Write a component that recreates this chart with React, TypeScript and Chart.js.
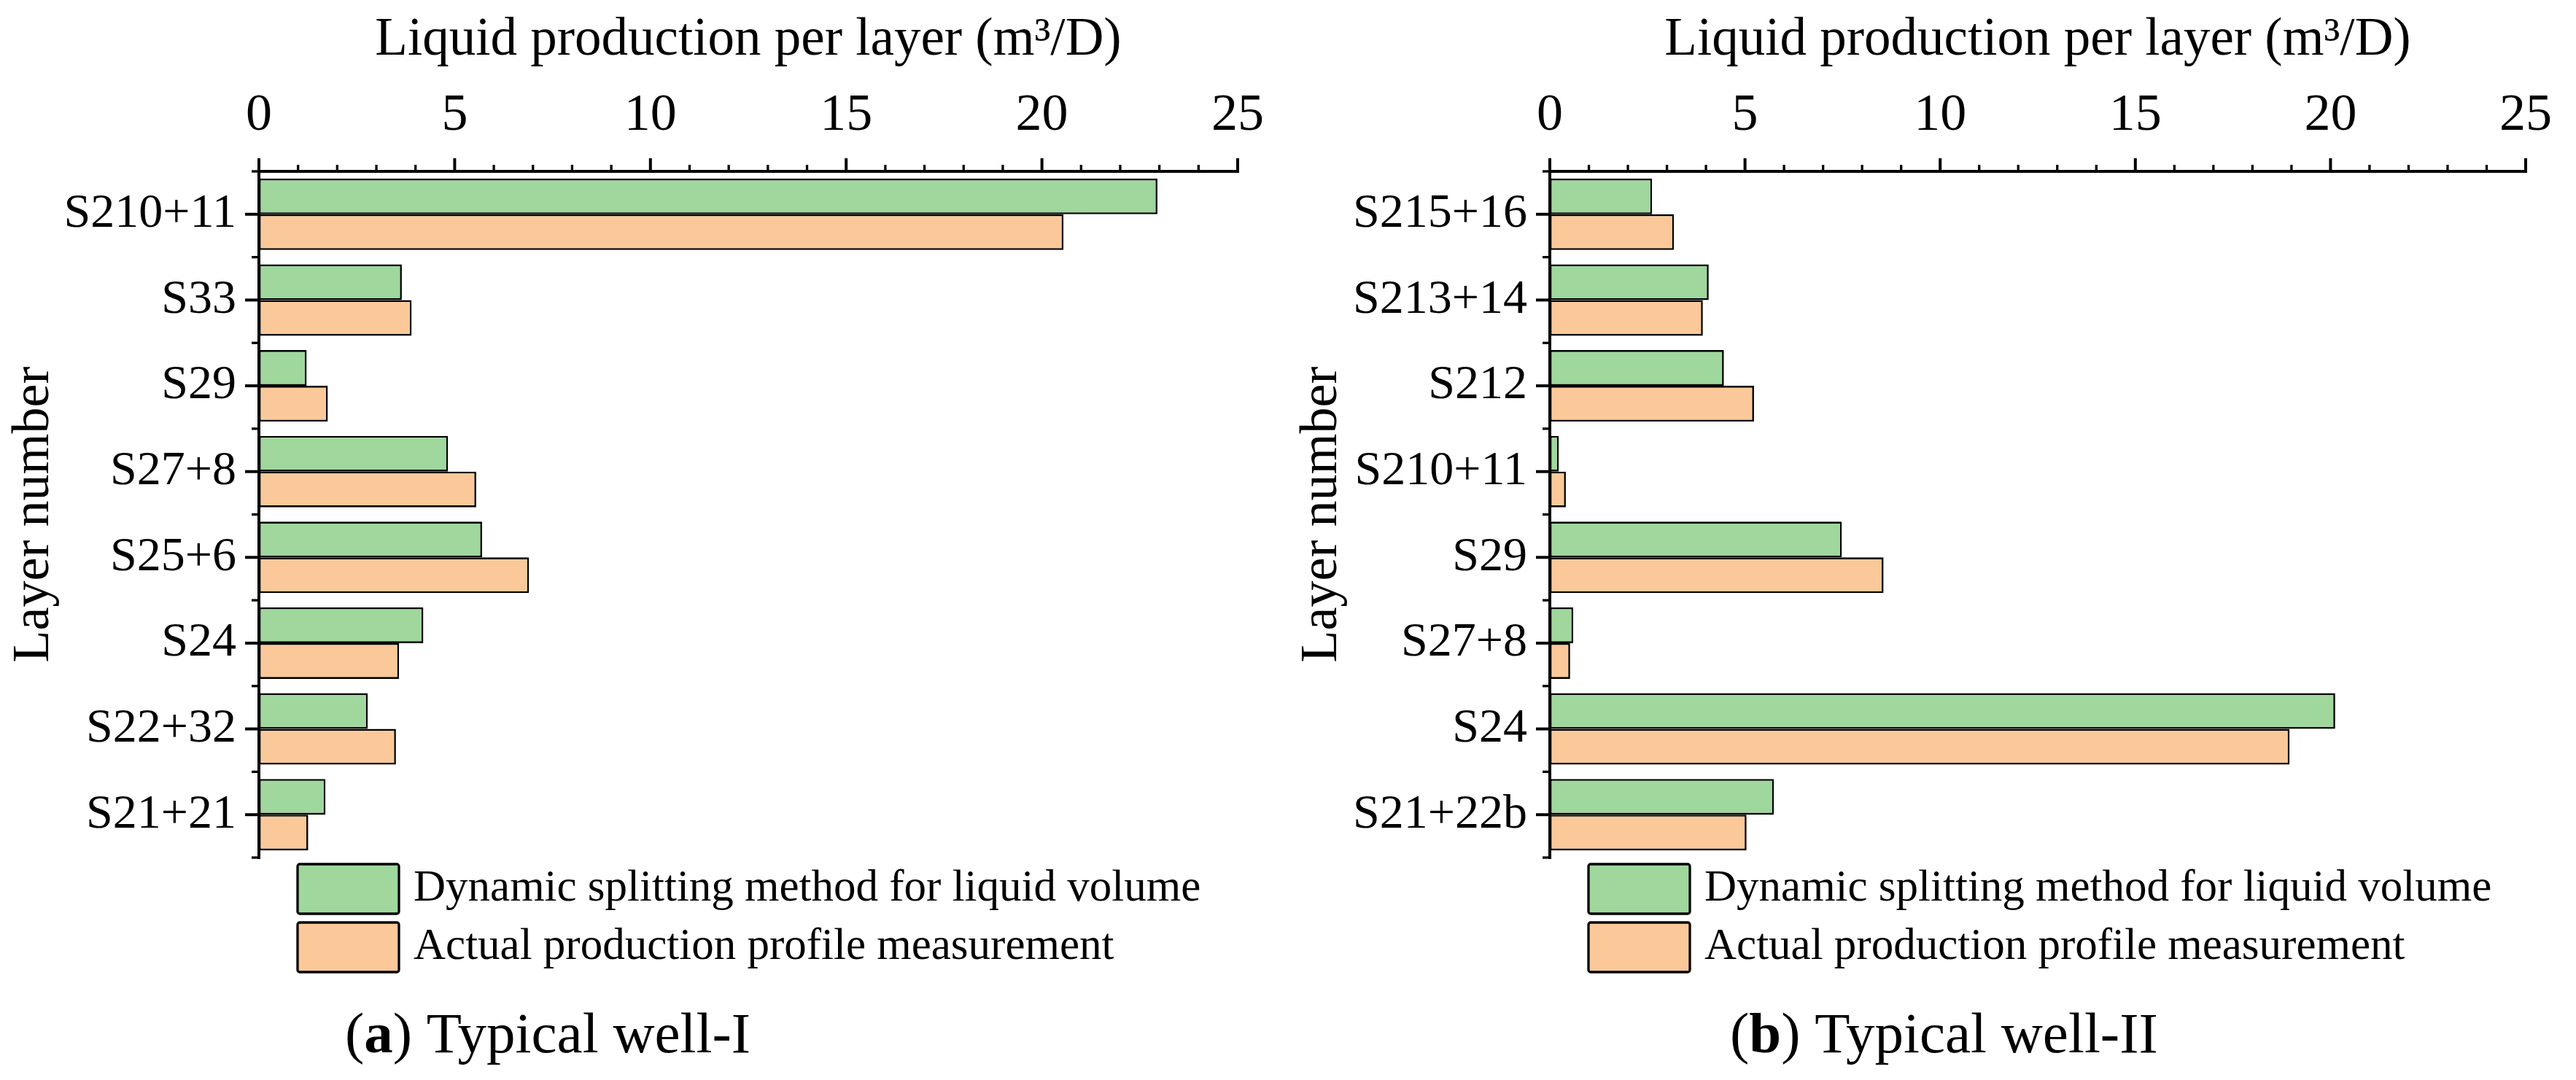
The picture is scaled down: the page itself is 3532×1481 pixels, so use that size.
import React, { useEffect, useRef } from "react";
import { Chart, registerables } from "chart.js";

Chart.register(...registerables);

// chart values
const layersI = ["S210+11", "S33", "S29", "S27+8", "S25+6", "S24", "S22+32", "S21+21"];
const dynamicI = [22.95, 3.65, 1.22, 4.83, 5.7, 4.2, 2.78, 1.7];
const measuredI = [20.55, 3.9, 1.76, 5.55, 6.9, 3.58, 3.5, 1.26];

const layersII = ["S215+16", "S213+14", "S212", "S210+11", "S29", "S27+8", "S24", "S21+22b"];
const dynamicII = [2.62, 4.07, 4.46, 0.23, 7.48, 0.6, 20.12, 5.74];
const measuredII = [3.18, 3.92, 5.23, 0.41, 8.55, 0.52, 18.95, 5.04];

const xMin = 0;
const xMax = 25;
const xMajorStep = 5;
const xMinorStep = 1;

const seriesNames = ["Dynamic splitting method for liquid volume", "Actual production profile measurement"];
const xTitle = "Liquid production per layer (m³/D)";
const yTitle = "Layer number";

const FONT = "'Liberation Serif', 'Times New Roman', Times, serif";
const GREEN = "#9fd79d";
const ORANGE = "#fbc999";

const W = 1766;
const H = 1481;

// draws outward ticks (major + minor), axis lines, legend and caption
const wellPlugin = {
  id: "wellDecor",
  afterDatasetsDraw(chart: any) {
    const { ctx, chartArea: a, scales } = chart;
    const xs = scales.x;
    const ys = scales.y;
    const n = chart.data.labels.length;
    const seg = (x1: number, y1: number, x2: number, y2: number, w: number) => {
      ctx.lineWidth = w;
      ctx.beginPath();
      ctx.moveTo(x1, y1);
      ctx.lineTo(x2, y2);
      ctx.stroke();
    };
    ctx.save();
    ctx.strokeStyle = "#000";
    ctx.lineCap = "butt";
    // x ticks on top, pointing up
    for (let v = xMin; v <= xMax; v += xMinorStep) {
      const px = xs.getPixelForValue(v);
      const major = v % xMajorStep === 0;
      seg(px, a.top, px, a.top - (major ? 18 : 9), major ? 4 : 3.3);
    }
    // category ticks pointing left
    for (let i = 0; i < n; i++) {
      const py = ys.getPixelForValue(i);
      seg(a.left - 19, py, a.left, py, 4);
    }
    for (let i = 0; i <= n; i++) {
      const py = ys.getPixelForValue(i - 0.5);
      seg(a.left - 10, py, a.left, py, 3.3);
    }
    seg(a.left - 2, a.top, a.right + 2, a.top, 4);
    seg(a.left, a.top - 2, a.left, a.bottom + 2, 4);
    ctx.restore();
  },
  afterDraw(chart: any, _args: any, opts: any) {
    const { ctx, chartArea: a } = chart;
    ctx.save();
    // legend
    chart.data.datasets.forEach((ds: any, i: number) => {
      const bx = a.left + 53;
      const by = a.bottom + 9 + i * 80;
      ctx.fillStyle = ds.backgroundColor;
      ctx.strokeStyle = "#000";
      ctx.lineWidth = 3.3;
      ctx.beginPath();
      ctx.roundRect(bx, by, 139, 68, 3);
      ctx.fill();
      ctx.stroke();
      ctx.fillStyle = "#000";
      ctx.font = `61px ${FONT}`;
      ctx.textAlign = "left";
      ctx.textBaseline = "middle";
      ctx.fillText(ds.label, bx + 139 + 20, by + 34);
    });
    // caption "(a) Typical well-I"
    const parts: [string, string][] = [
      ["(", `79px ${FONT}`],
      [opts.letter, `bold 79px ${FONT}`],
      [") " + opts.caption, `79px ${FONT}`],
    ];
    let cx = opts.captionX;
    const cy = a.bottom + 267;
    ctx.fillStyle = "#000";
    ctx.textAlign = "left";
    ctx.textBaseline = "alphabetic";
    parts.forEach(([t, f]) => {
      ctx.font = f;
      ctx.fillText(t, cx, cy);
      cx += ctx.measureText(t).width;
    });
    ctx.restore();
  },
};

type PanelProps = {
  labels: string[];
  dynamic: number[];
  measured: number[];
  axisX: number;
  padRight: number;
  letter: string;
  caption: string;
  captionX: number;
  left: number;
};

function WellPanel(props: PanelProps) {
  const canvasRef = useRef<HTMLCanvasElement | null>(null);
  const chartRef = useRef<Chart | null>(null);

  useEffect(() => {
    if (!canvasRef.current) return;
    const ctx = canvasRef.current.getContext("2d");
    if (!ctx) return;
    if (chartRef.current) chartRef.current.destroy();

    chartRef.current = new Chart(ctx, {
      type: "bar",
      data: {
        labels: props.labels,
        datasets: [
          {
            label: seriesNames[0],
            data: props.dynamic,
            backgroundColor: GREEN,
            borderColor: "#000",
            borderWidth: 2.6,
            borderSkipped: false,
            barPercentage: 1,
            categoryPercentage: 0.833,
          },
          {
            label: seriesNames[1],
            data: props.measured,
            backgroundColor: ORANGE,
            borderColor: "#000",
            borderWidth: 2.6,
            borderSkipped: false,
            barPercentage: 1,
            categoryPercentage: 0.833,
          },
        ],
      },
      options: {
        indexAxis: "y",
        responsive: false,
        animation: false,
        devicePixelRatio: 1,
        layout: { padding: { left: 0, top: 0, right: props.padRight, bottom: H - 1176 } },
        plugins: {
          legend: { display: false },
          tooltip: { enabled: false },
          wellDecor: { letter: props.letter, caption: props.caption, captionX: props.captionX },
        } as any,
        scales: {
          x: {
            type: "linear",
            position: "top",
            min: xMin,
            max: xMax,
            ticks: {
              stepSize: xMajorStep,
              color: "#000",
              font: { family: FONT, size: 72 },
              padding: 33,
            },
            grid: { display: false, drawTicks: false },
            border: { display: false },
            title: {
              display: true,
              text: xTitle,
              color: "#000",
              font: { family: FONT, size: 73 },
              padding: { top: 12, bottom: 0 },
            },
            afterFit: (s: any) => {
              s.height = 235;
            },
          },
          y: {
            type: "category",
            position: "left",
            ticks: {
              color: "#000",
              font: { family: FONT, size: 66 },
              padding: 31,
            },
            grid: { display: false, drawTicks: false },
            border: { display: false },
            title: {
              display: true,
              text: yTitle,
              color: "#000",
              font: { family: FONT, size: 72 },
              padding: { top: 4, bottom: 0 },
            },
            afterFit: (s: any) => {
              s.width = props.axisX;
            },
          },
        },
      },
      plugins: [wellPlugin],
    });

    return () => {
      if (chartRef.current) {
        chartRef.current.destroy();
        chartRef.current = null;
      }
    };
  }, []);

  return (
    <canvas
      ref={canvasRef}
      width={W}
      height={H}
      style={{ position: "absolute", left: props.left, top: 0, width: W, height: H }}
    />
  );
}

export default function App() {
  return (
    <div
      style={{
        position: "absolute",
        left: 0,
        top: 0,
        width: 3532,
        height: 1481,
        background: "#fff",
        overflow: "hidden",
      }}
    >
      <WellPanel
        labels={layersI}
        dynamic={dynamicI}
        measured={measuredI}
        axisX={355}
        padRight={50}
        letter="a"
        caption="Typical well-I"
        captionX={473}
        left={0}
      />
      <WellPanel
        labels={layersII}
        dynamic={dynamicII}
        measured={measuredII}
        axisX={359}
        padRight={46}
        letter="b"
        caption="Typical well-II"
        captionX={606}
        left={1766}
      />
    </div>
  );
}
